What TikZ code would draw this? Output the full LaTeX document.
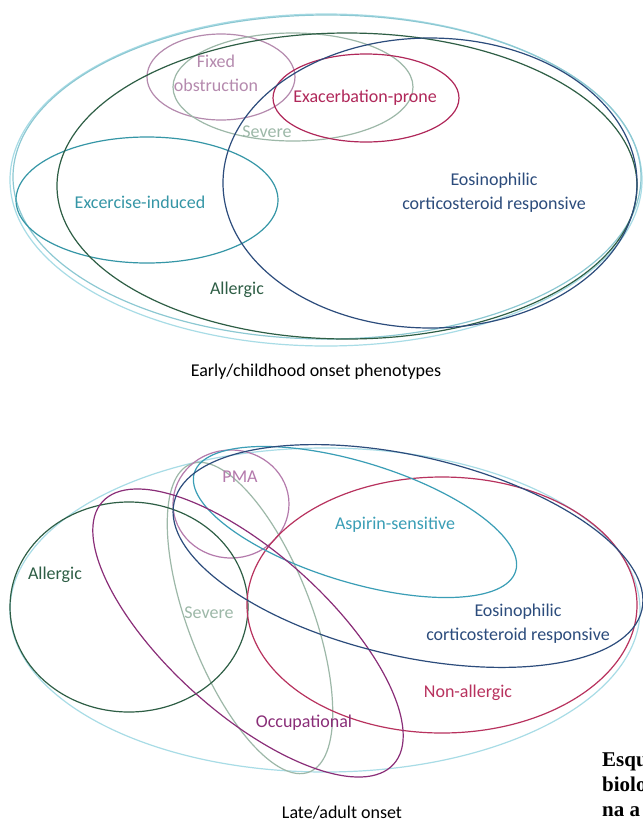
\documentclass[tikz,border=0pt]{standalone}
\usepackage{fontspec}
\setmainfont{Carlito}
\newfontfamily\notefont{Liberation Serif}

\definecolor{paleblue}{HTML}{A8DCE6}
\definecolor{palecyan}{HTML}{8CC8D2}
\definecolor{allergcol}{HTML}{2E5E45}
\definecolor{eoscol}{HTML}{2C4C7C}
\definecolor{exccol}{HTML}{3596A6}
\definecolor{fixcol}{HTML}{B58AAE}
\definecolor{sevcol}{HTML}{9DB8A8}
\definecolor{exacol}{HTML}{B0285A}
\definecolor{aspcol}{HTML}{3A9EB6}
\definecolor{nonallcol}{HTML}{B8325E}
\definecolor{occcol}{HTML}{8A2E78}
\definecolor{pmacol}{HTML}{B47AAC}

\begin{document}
\begin{tikzpicture}[x=1pt, y=-1pt,
    ring/.style={line width=1.2pt},
    lbl/.style={font=\fontsize{18}{24}\selectfont, inner sep=0pt, align=center}]
    \fill[white] (0,0) rectangle (643,823);
    \useasboundingbox (0,0) rectangle (643,823);

    % early/childhood onset
    \draw[ring, paleblue] (326,180) ellipse [x radius=316, y radius=166];
    \draw[ring, palecyan] (327,177) ellipse [x radius=314, y radius=162];
    \draw[ring, fixcol] (221,77) ellipse [x radius=74, y radius=43];
    \draw[ring, sevcol] (293,87) ellipse [x radius=120, y radius=54];
    \draw[ring, exacol] (366,98) ellipse [x radius=93, y radius=44];
    \draw[ring, exccol] (147,200) ellipse [x radius=131, y radius=63];
    \draw[ring, allergcol] (347,186) ellipse [x radius=290, y radius=153];
    \draw[ring, eoscol] (430,183) ellipse [x radius=207, y radius=145];

    \node[lbl, text=fixcol] (fixed) at (216,73) {Fixed\\obstruction};
    \node[lbl, text=exacol] (exacerb) at (365,98) {Exacerbation-prone};
    \node[lbl, text=sevcol] (severe1) at (267,132) {Severe};
    \node[lbl, text=exccol] (exercise) at (140,202) {Excercise-induced};
    \node[lbl, text=allergcol] (allergic1) at (237,290) {Allergic};
    \node[lbl, text=eoscol] (eosin1) at (494,193) {Eosinophilic\\corticosteroid responsive};
    \node[lbl] (early) at (316,372) {Early/childhood onset phenotypes};

    % late/adult onset
    \draw[ring, paleblue] (325,610) ellipse [x radius=315, y radius=162];
    \draw[ring, sevcol, rotate around={-69:(250,618)}] (250,618) ellipse [x radius=165, y radius=62];
    \draw[ring, pmacol] (231,504) ellipse [x radius=58, y radius=54];
    \draw[ring, allergcol] (129,607) ellipse [x radius=119, y radius=105];
    \draw[ring, nonallcol] (442,605) ellipse [x radius=195, y radius=128];
    \draw[ring, aspcol, rotate around={-17:(355,522)}] (355,522) ellipse [x radius=168, y radius=60];
    \draw[ring, occcol, rotate around={-42:(248,633)}] (248,633) ellipse [x radius=196, y radius=80];
    \draw[ring, eoscol, rotate around={-13:(408,556)}] (408,556) ellipse [x radius=240, y radius=100];

    \node[lbl, text=pmacol] (pma) at (240,477) {PMA};
    \node[lbl, text=aspcol] (aspirin) at (395,525) {Aspirin-sensitive};
    \node[lbl, text=allergcol] (allergic2) at (55,575) {Allergic};
    \node[lbl, text=sevcol] (severe2) at (209,613) {Severe};
    \node[lbl, text=eoscol] (eosin2) at (518,624) {Eosinophilic\\corticosteroid responsive};
    \node[lbl, text=nonallcol] (nonallergic) at (468,693) {Non-allergic};
    \node[lbl, text=occcol] (occupational) at (304,723) {Occupational};
    \node[lbl] (late) at (342,813) {Late/adult onset};

    \node[font=\notefont\bfseries\fontsize{21}{25}\selectfont, align=left, inner sep=0pt,
          anchor=north west] (caption) at (602,753) {Esqu\\biolo\\na a};
\end{tikzpicture}
\end{document}
